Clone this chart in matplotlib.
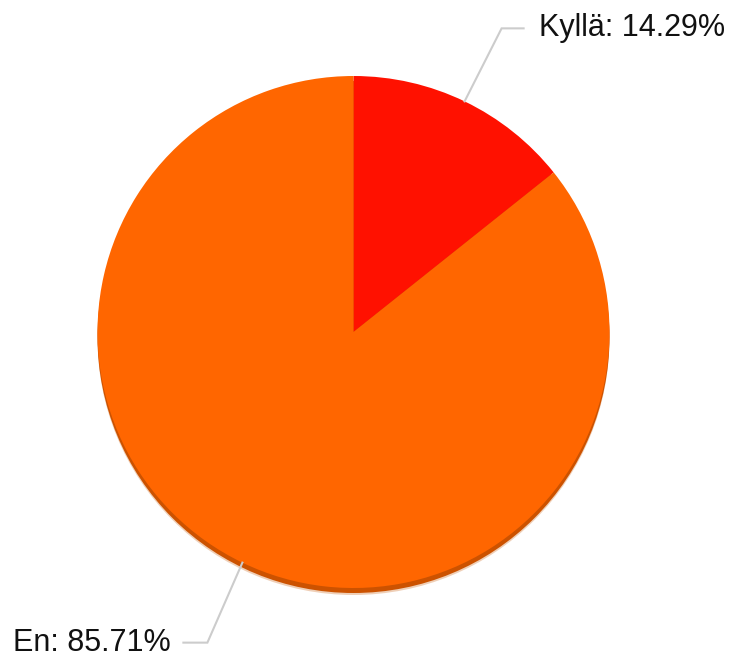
import numpy as np
import matplotlib
matplotlib.use("Agg")
import matplotlib.pyplot as plt
from matplotlib.patches import Circle

labels = ["Kyllä", "En"]
values = [14.29, 85.71]
colors = ["#FF1100", "#FF6600"]

plt.rcParams['font.family'] = ['Liberation Sans', 'DejaVu Sans']

W, H = 733, 664
fig = plt.figure(figsize=(W / 100, H / 100), dpi=100)
ax = fig.add_axes([0, 0, 1, 1])

cx, cy, r = 353.5, 332, 256

# shadow
ax.add_patch(Circle((cx, cy - 7), r, color="#E0A070", alpha=0.5, lw=0, zorder=1))
ax.add_patch(Circle((cx, cy - 5), r, color="#CC5200", lw=0, zorder=1))

wedges, _ = ax.pie(values, colors=colors, startangle=90, counterclock=False,
                   center=(cx, cy), radius=r, frame=True,
                   wedgeprops=dict(linewidth=0, zorder=2))
ax.set_xlim(0, W)
ax.set_ylim(0, H)
ax.set_aspect('equal')
ax.axis('off')

offsets = {0: (37, 73, 22), 1: (-35, -80, -24)}
for i, (w, lab, v) in enumerate(zip(wedges, labels, values)):
    ang = np.deg2rad((w.theta1 + w.theta2) / 2)
    ex, ey = cx + r * np.cos(ang), cy + r * np.sin(ang)
    dx, dy, hx = offsets[i]
    px, py = ex + dx, ey + dy
    qx = px + hx
    ax.plot([ex, px, qx], [ey, py, py], color="#cccccc", lw=1.5, zorder=3,
            solid_joinstyle='miter')
    ha = 'left' if hx > 0 else 'right'
    tx = qx + (15 if hx > 0 else -13)
    ax.text(tx, py, f"{lab}: {v:.2f}%", ha=ha, va='center', fontsize=22,
            color="#111111", zorder=4)

fig.savefig("out.png", dpi=100)
